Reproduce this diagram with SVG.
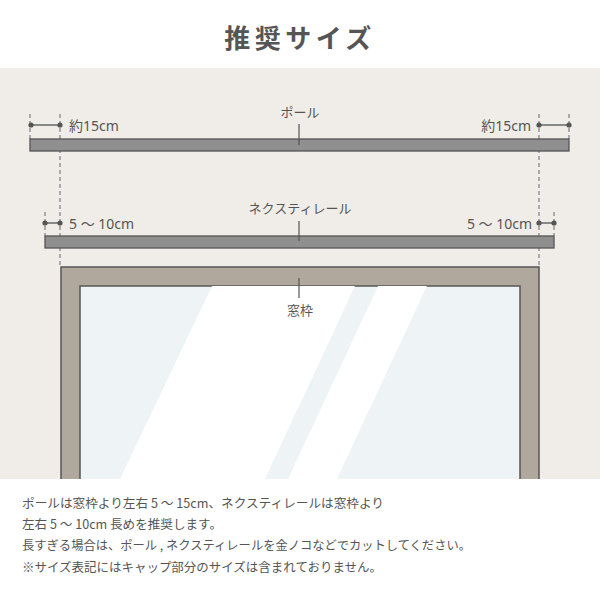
<svg xmlns="http://www.w3.org/2000/svg" width="600" height="600" viewBox="0 0 600 600">
<defs>
<style>
.t{font-family:"Noto Sans CJK JP","Noto Sans",sans-serif;fill:#555;}
.lbl{font-size:13px;}
.num{font-family:"Noto Sans","Noto Sans CJK JP",sans-serif;font-size:14px;fill:#555;}
.bar{fill:#8f8f8f;stroke:#555;stroke-width:1.3;}
.dash{stroke:#666;stroke-width:1;stroke-dasharray:4 3;fill:none;}
.dim{stroke:#666;stroke-width:1.5;}
.tick{stroke:#555;stroke-width:1.2;}
.dot{fill:#555;}
.body{font-size:12.5px;}
</style>
<clipPath id="glassClip"><rect x="80" y="286" width="440" height="193"/></clipPath>
</defs>
<rect x="0" y="0" width="600" height="600" fill="#ffffff"/>
<rect x="0" y="68" width="600" height="411" fill="#f0ede8"/>
<text class="t" x="300" y="48" text-anchor="middle" font-size="26" font-weight="bold" letter-spacing="4.5">推奨サイズ</text>

<g id="window">
<rect x="61" y="267" width="478" height="230" fill="#b0a89c" stroke="#555" stroke-width="1.5"/>
<rect x="80" y="286" width="440" height="210" fill="#eef3f6" stroke="#555" stroke-width="1.5"/>
<g clip-path="url(#glassClip)">
<polygon points="212,286 355,286 265,479 120,479" fill="#ffffff"/>
<polygon points="378,286 427,286 337,479 288,479" fill="#ffffff"/>
</g>
<line class="tick" x1="299" y1="278" x2="299" y2="298"/>
<text class="t lbl" x="300" y="315" text-anchor="middle">窓枠</text>
</g>

<g id="connectors">
<line class="dash" x1="30" y1="114" x2="30" y2="139"/>
<line class="dash" x1="60" y1="114" x2="60" y2="267"/>
<line class="dash" x1="45" y1="212" x2="45" y2="236"/>
<line class="dash" x1="569" y1="114" x2="569" y2="139"/>
<line class="dash" x1="539" y1="114" x2="539" y2="267"/>
<line class="dash" x1="554" y1="212" x2="554" y2="236"/>
<line class="dim" x1="31" y1="125" x2="60" y2="125"/>
<circle class="dot" cx="31" cy="125" r="2.6"/><circle class="dot" cx="60" cy="125" r="2.6"/>
<line class="dim" x1="539" y1="125" x2="569" y2="125"/>
<circle class="dot" cx="539" cy="125" r="2.6"/><circle class="dot" cx="569" cy="125" r="2.6"/>
<line class="dim" x1="45" y1="223" x2="60" y2="223"/>
<circle class="dot" cx="45" cy="223" r="2.6"/><circle class="dot" cx="60" cy="223" r="2.6"/>
<line class="dim" x1="539" y1="223" x2="554" y2="223"/>
<circle class="dot" cx="539" cy="223" r="2.6"/><circle class="dot" cx="554" cy="223" r="2.6"/>
</g>

<g id="pole">
<rect class="bar" x="30" y="139" width="539" height="12"/>
<line class="tick" x1="299" y1="124" x2="299" y2="145"/>
<text class="t lbl" x="300" y="117" text-anchor="middle">ポール</text>
<text class="num" x="69" y="131">約15cm</text>
<text class="num" x="531" y="131" text-anchor="end">約15cm</text>
</g>

<g id="rail">
<rect class="bar" x="45" y="236" width="509" height="12"/>
<line class="tick" x1="299" y1="221" x2="299" y2="241"/>
<text class="t lbl" x="300" y="213" text-anchor="middle">ネクスティレール</text>
<text class="num" x="69" y="229">5 〜 10cm</text>
<text class="num" x="532" y="229" text-anchor="end">5 〜 10cm</text>
</g>

<rect x="0" y="479" width="600" height="121" fill="#ffffff"/>
<g id="notes">
<text class="t body" x="22" y="508" textLength="362" lengthAdjust="spacingAndGlyphs">ポールは窓枠より左右 5 ～ 15cm、ネクスティレールは窓枠より</text>
<text class="t body" x="22" y="529" textLength="200" lengthAdjust="spacingAndGlyphs">左右 5 ～ 10cm 長めを推奨します。</text>
<text class="t body" x="22" y="550" textLength="449" lengthAdjust="spacingAndGlyphs">長すぎる場合は、ポール , ネクスティレールを金ノコなどでカットしてください。</text>
<text class="t body" x="22" y="572" textLength="360" lengthAdjust="spacingAndGlyphs">※サイズ表記にはキャップ部分のサイズは含まれておりません。</text>
</g>
</svg>
